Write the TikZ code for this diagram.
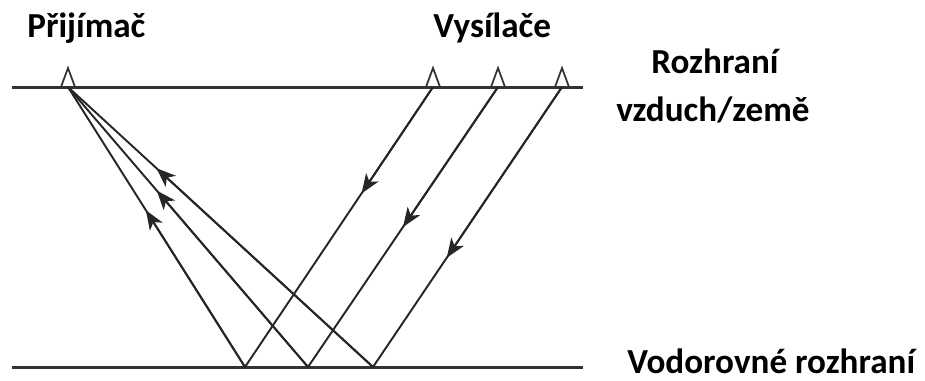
\documentclass[tikz,border=0pt]{standalone}
\usepackage{fontspec}
\setmainfont{Carlito}
\usetikzlibrary{arrows.meta, calc}

\begin{document}
\begin{tikzpicture}[x=0.02cm, y=-0.02cm,
  surface/.style={line width=1.7pt, black!80},
  ray/.style={line width=1.1pt, black!85},
  raytip/.style={ray, -{Stealth[length=11pt, width=8.5pt, inset=3pt]}},
  sensor/.style={line width=1.0pt, black!80},
  lbl/.style={font=\fontsize{20}{22}\selectfont\bfseries}]
  \useasboundingbox (0,0) rectangle (925,380);

  % Surfaces
  \coordinate (topL) at (12,87);
  \coordinate (topR) at (583,87);
  \coordinate (botL) at (12,367);
  \coordinate (botR) at (583,367);
  \draw[surface] (topL) -- (topR);
  \draw[surface] (botL) -- (botR);

  % Receiver, transmitters and reflection points
  \coordinate (R) at (68,87);
  \foreach \i/\tx/\bx in {1/433/245, 2/498/308, 3/562/373}{
    \coordinate (T\i) at (\tx,87);
    \coordinate (B\i) at (\bx,367);
  }

  % Small triangles on the surface
  \foreach \p in {R, T1, T2, T3}{
    \draw[sensor] ($(\p)+(-7,0)$) -- ($(\p)+(0,-19)$) -- ($(\p)+(7,0)$);
  }

  % Downgoing rays
  \foreach \i/\f in {1/0.38, 2/0.50, 3/0.61}{
    \draw[ray] (T\i) -- (B\i);
    \draw[raytip] (T\i) -- ($(T\i)!\f!(B\i)$);
  }

  % Reflected rays back to receiver
  \foreach \i/\f in {1/0.56, 2/0.63, 3/0.71}{
    \draw[ray] (B\i) -- (R);
    \draw[raytip] (B\i) -- ($(B\i)!\f!(R)$);
  }

  % Labels
  \node[lbl, anchor=base west, inner sep=0pt] (prijimac) at (27,37) {Přijímač};
  \node[lbl, anchor=base west, inner sep=0pt] (vysilace) at (433,37) {Vysílače};
  \node[lbl, anchor=base, inner sep=0pt] (rozhrani) at (715,73) {Rozhraní};
  \node[lbl, anchor=base, inner sep=0pt] (vzduch) at (713,121) {vzduch/země};
  \node[lbl, anchor=base west, inner sep=0pt] (vodorovne) at (627,373) {Vodorovné rozhraní};
\end{tikzpicture}
\end{document}
